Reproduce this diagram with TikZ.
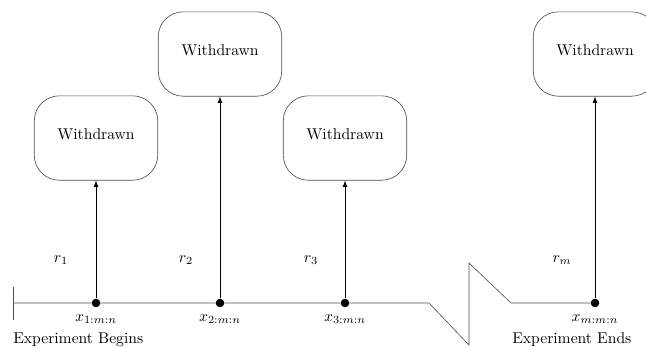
\documentclass[tikz,border=0pt]{standalone}
\usetikzlibrary{arrows}

\begin{document}
\begin{tikzpicture}[x=0.64pt,y=-0.64pt,
    wbox/.style={draw=black!70, rounded corners=16pt, minimum width=79pt, minimum height=54pt, text depth=4.5pt},
    failpt/.style={circle, fill=black, inner sep=0pt, minimum size=5.5pt}]
    \clip (0,0) rectangle (646,347);
    \useasboundingbox (0,0) rectangle (646,347);
    % withdrawn boxes
    \node[wbox] (wd1) at (96,138) {Withdrawn};
    \node[wbox] (wd2) at (220,54) {Withdrawn};
    \node[wbox] (wd3) at (345,138) {Withdrawn};
    \node[wbox] (wd4) at (595,54) {Withdrawn};
    % failure times on the time axis
    \node[failpt] (x1) at (96,303) {};
    \node[failpt] (x2) at (220,303) {};
    \node[failpt] (x3) at (345,303) {};
    \node[failpt] (xm) at (595,303) {};
    \coordinate (start) at (13,303);
    \coordinate (brk) at (429,303);
    \coordinate (brklow) at (469,345);
    \coordinate (brkhigh) at (469,263);
    \coordinate (brkend) at (511,303);
    % time axis with break
    \draw[black!70] (13,287) -- (13,320); % begin tick
    \draw[black!70] (start) -- (x1) -- (x2) -- (x3) -- (brk) -- (brklow) -- (brkhigh) -- (brkend) -- (xm); % axis
    % removals
    \draw[->, >=latex] (x1) -- (wd1); % r1
    \draw[->, >=latex] (x2) -- (wd2); % r2
    \draw[->, >=latex] (x3) -- (wd3); % r3
    \draw[->, >=latex] (xm) -- (wd4); % rm
    \node (r1) at (61,260) {$r_1$};
    \node (r2) at (186,260) {$r_2$};
    \node (r3) at (311,260) {$r_3$};
    \node (rm) at (562,260) {$r_m$};
    % order statistics
    \node[below=1pt] (lx1) at (x1.south) {$x_{1:m:n}$};
    \node[below=1pt] (lx2) at (x2.south) {$x_{2:m:n}$};
    \node[below=1pt] (lx3) at (x3.south) {$x_{3:m:n}$};
    \node[below=1pt] (lxm) at (xm.south) {$x_{m:m:n}$};
    % begin and end
    \node[anchor=west, inner sep=0pt] (begin) at (13,340) {Experiment Begins};
    \node[anchor=west, inner sep=0pt] (end) at (512,340) {Experiment Ends};
  \end{tikzpicture}
\end{document}
